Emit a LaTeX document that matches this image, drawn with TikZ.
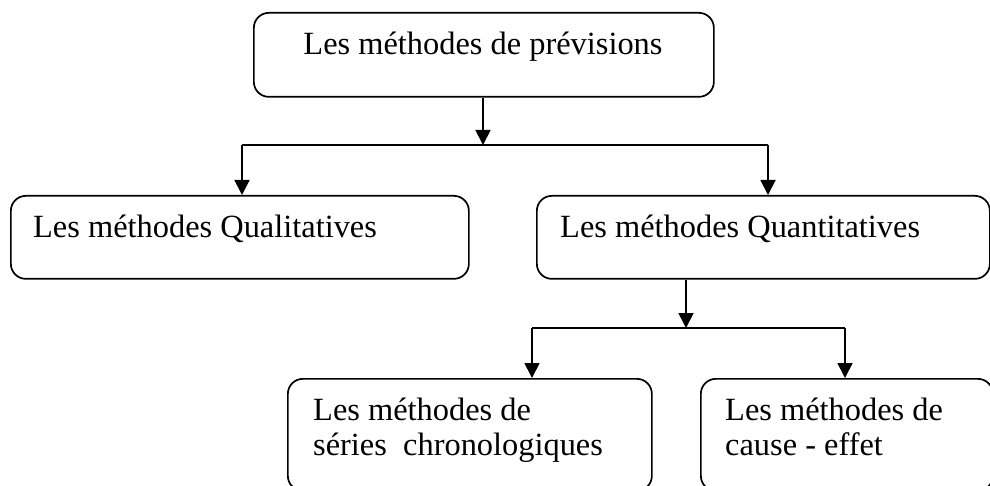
\documentclass[tikz,border=0pt]{standalone}
\usepackage{fontspec}
\setmainfont{Liberation Serif}
\usetikzlibrary{arrows.meta}
\begin{document}
\begin{tikzpicture}[x=1pt,y=-1pt,
  boxshape/.style={draw=black, line width=1.7pt, rounded corners=15pt, inner sep=0pt, anchor=north west},
  lbl/.style={inner sep=0pt, font=\fontsize{32.4}{35}\selectfont},
  conn/.style={draw=black, line width=1.8pt},
  arr/.style={conn, -{Triangle[length=15pt,width=15pt]}}]
\useasboundingbox (0,0) rectangle (990,486);
% boxes
\node[boxshape, minimum width=460pt, minimum height=84pt] (top) at (253,12) {};
\node[boxshape, minimum width=458pt, minimum height=83pt] (qual) at (10,195) {};
\node[boxshape, minimum width=453pt, minimum height=83pt] (quant) at (536,195) {};
\node[boxshape, minimum width=364pt, minimum height=112pt] (serie) at (287,378) {};
\node[boxshape, minimum width=292pt, minimum height=112pt] (cause) at (700,378) {};
% texts
\node[lbl, anchor=base] (topT) at (483,55) {Les méthodes de prévisions};
\node[lbl, anchor=base west] (qualT) at (33,238) {Les méthodes Qualitatives};
\node[lbl, anchor=base west] (quantT) at (560,238) {Les méthodes Quantitatives};
\node[lbl, anchor=base west] (serieT) at (313,420) {\begin{tabular}[t]{@{}l@{}}Les méthodes de\\séries~~chronologiques\end{tabular}};
\node[lbl, anchor=base west] (causeT) at (725,420) {\begin{tabular}[t]{@{}l@{}}Les méthodes de\\cause - effet\end{tabular}};
% bus coordinates
\coordinate (b1) at (483,145);
\coordinate (b1L) at (242,145);
\coordinate (b1R) at (768,145);
\coordinate (b2) at (686,328);
\coordinate (b2L) at (532,328);
\coordinate (b2R) at (845,328);
% connectors
\draw[arr] (top.south -| b1) -- (b1);
\draw[conn] (b1L) -- (b1R);
\draw[arr] (b1L) -- (b1L |- qual.north);
\draw[arr] (b1R) -- (b1R |- quant.north);
\draw[arr] (quant.south -| b2) -- (b2);
\draw[conn] (b2L) -- (b2R);
\draw[arr] (b2L) -- (b2L |- serie.north);
\draw[arr] (b2R) -- (b2R |- cause.north);
\end{tikzpicture}
\end{document}
